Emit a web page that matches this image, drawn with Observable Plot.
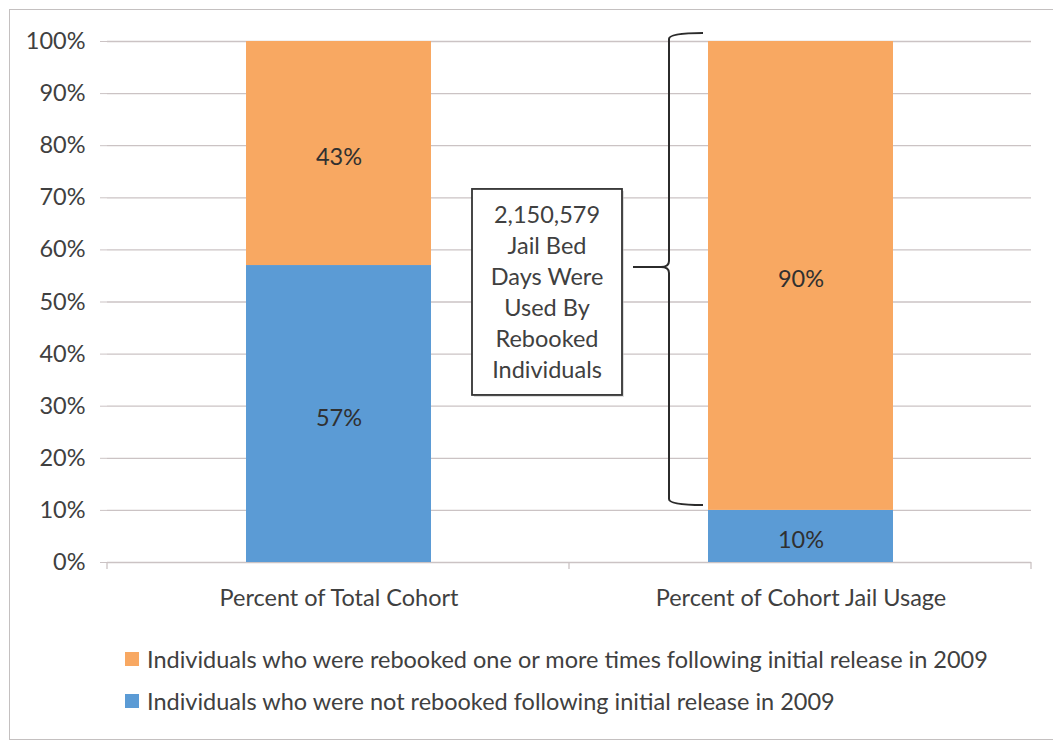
<!DOCTYPE html>
<html>
<head>
<meta charset="utf-8">
<script src="https://cdn.jsdelivr.net/npm/d3@7"></script>
<script src="https://cdn.jsdelivr.net/npm/@observablehq/plot@0.6"></script>
<style>
  html, body { margin: 0; padding: 0; background: #fff; }
  #wrap { position: relative; width: 1053px; height: 744px; font-family: Lato, "Open Sans", sans-serif; color: #404040; }
  #frame { position: absolute; left: 9px; top: 9px; width: 1060px; height: 731px; border: 1.5px solid #c4c0c0; box-sizing: border-box; }
  #chart { position: absolute; left: 0; top: 0; }
  .leg { position: absolute; left: 125px; display: flex; align-items: center; font-size: 23.5px; color: #404040; white-space: nowrap; }
  .leg .sw { width: 14px; height: 14px; margin-right: 8px; }
</style>
</head>
<body>
<div id="wrap">
  <div id="frame"></div>
  <div id="chart"></div>
  <div id="legend"></div>
</div>
<script>
// ---- data ----
const categories = ["Percent of Total Cohort", "Percent of Cohort Jail Usage"];
const seriesNames = [
  "Individuals who were not rebooked following initial release in 2009",
  "Individuals who were rebooked one or more times following initial release in 2009"
];
const notRebooked = [57, 10];
const rebooked = [43, 90];
const legendOrder = [1, 0];
const seriesColors = ["#5b9bd5", "#f8a862"];
const yTicks = [0, 10, 20, 30, 40, 50, 60, 70, 80, 90, 100];
const calloutLines = ["2,150,579", "Jail Bed", "Days Were", "Used By", "Rebooked", "Individuals"];
const braceRange = [10, 100]; // the rebooked share of jail usage

const rows = [];
categories.forEach((c, i) => {
  rows.push({cat: c, series: seriesNames[0], value: notRebooked[i], label: notRebooked[i] + "%"});
  rows.push({cat: c, series: seriesNames[1], value: rebooked[i], label: rebooked[i] + "%"});
});

const gridColor = "#cbc3c4";
const textColor = "#404040";
const fontSize = 23.5;

// custom annotation mark: brace + callout + category-boundary ticks
function annotations(index, scales, values, dims) {
  const x = scales.x, y = scales.y;
  const g = d3.create("svg:g");
  const step = x.step();
  const x0 = dims.marginLeft;
  const yBase = y(0);
  // category boundary tick marks
  const bounds = d3.range(categories.length + 1).map(i => x0 + i * step);
  g.selectAll("line.tk").data(bounds).join("line")
    .attr("x1", d => d).attr("x2", d => d)
    .attr("y1", yBase).attr("y2", yBase + 7)
    .attr("stroke", gridColor).attr("stroke-width", 1.3);
  // brace
  const barLeft = x(categories[1]);
  const bx = barLeft - 39;
  const yTop = y(braceRange[1]) - 8, yBot = y(braceRange[0]) - 5;
  const yMid = (yTop + yBot) / 2 - 2;
  const r = 6;
  const path = [
    `M${bx + 34},${yTop}`,
    `Q${bx},${yTop} ${bx},${yTop + r}`,
    `L${bx},${yMid - r}`,
    `Q${bx},${yMid} ${bx - 8},${yMid}`,
    `L${bx - 36},${yMid}`,
    `M${bx - 8},${yMid}`,
    `Q${bx},${yMid} ${bx},${yMid + r}`,
    `L${bx},${yBot - r}`,
    `Q${bx},${yBot} ${bx + 34},${yBot}`
  ].join(" ");
  g.append("path").attr("d", path).attr("fill", "none")
    .attr("stroke", "#2b2b2b").attr("stroke-width", 2);
  // callout box
  const boxW = 150, boxH = 206;
  const cx = bx - 36 - 11 - boxW / 2;
  const cy = yMid + 25;
  g.append("rect")
    .attr("x", cx - boxW / 2 + 2).attr("y", cy - boxH / 2 + 2)
    .attr("width", boxW).attr("height", boxH)
    .attr("fill", "#bbb").attr("opacity", 0.5);
  g.append("rect")
    .attr("x", cx - boxW / 2).attr("y", cy - boxH / 2)
    .attr("width", boxW).attr("height", boxH)
    .attr("fill", "#fff").attr("stroke", "#333").attr("stroke-width", 1.8);
  const lh = 31;
  g.selectAll("text.cl").data(calloutLines).join("text")
    .attr("x", cx)
    .attr("y", (d, i) => cy + (i - (calloutLines.length - 1) / 2) * lh)
    .attr("dy", "0.35em")
    .attr("text-anchor", "middle")
    .attr("font-size", fontSize)
    .attr("fill", textColor)
    .text(d => d);
  return g.node();
}

const chart = Plot.plot({
  width: 1053,
  height: 620,
  marginTop: 41,
  marginBottom: 58,
  marginLeft: 107,
  marginRight: 22,
  style: {fontFamily: "Lato, 'Open Sans', sans-serif", fontSize: fontSize + "px", color: textColor, background: "transparent"},
  x: {domain: categories, paddingInner: 0.6, paddingOuter: 0.3, label: null},
  y: {domain: [0, 100], label: null},
  color: {domain: seriesNames, range: seriesColors},
  marks: [
    Plot.ruleY(yTicks, {stroke: gridColor, strokeWidth: 1.3}),
    Plot.axisY({ticks: yTicks, tickFormat: d => d + "%", tickSize: 7, tickPadding: 15, stroke: gridColor, fontSize: fontSize, color: textColor}),
    Plot.axisX({tickSize: 0, tickPadding: 27, fontSize: fontSize, color: textColor}),
    Plot.ruleX([0], {frameAnchor: "left", stroke: gridColor, strokeWidth: 1.3, y1: 0, y2: 100}),
    Plot.barY(rows, Plot.stackY({x: "cat", y: "value", fill: "series", order: seriesNames})),
    Plot.text(rows, Plot.stackY({x: "cat", y: "value", text: "label", z: "series", order: seriesNames, fill: "#303030", fontSize: fontSize, dy: 4})),
    annotations
  ]
});
document.getElementById("chart").appendChild(chart);

// legend
const leg = document.getElementById("legend");
legendOrder.forEach((si, k) => {
  const d = document.createElement("div");
  d.className = "leg";
  d.style.top = (645 + k * 42) + "px";
  d.innerHTML = `<span class="sw" style="background:${seriesColors[si]}"></span><span>${seriesNames[si]}</span>`;
  leg.appendChild(d);
});
</script>
</body>
</html>
